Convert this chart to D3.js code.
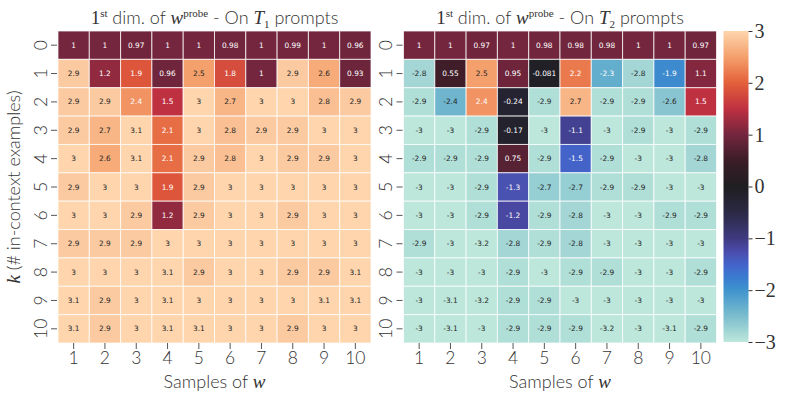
<!DOCTYPE html>
<html><head><meta charset="utf-8">
<script src="https://cdn.jsdelivr.net/npm/d3@7"></script>
<style>body{margin:0;background:#fff}</style>
</head><body><svg id="c" width="789" height="399"></svg>
<script>
const samples = [1,2,3,4,5,6,7,8,9,10];
const kValues = [0,1,2,3,4,5,6,7,8,9,10];
const valuesT1 = [
 [1,1,0.97,1,1,0.98,1,0.99,1,0.96],
 [2.9,1.2,1.9,0.96,2.5,1.8,1,2.9,2.6,0.93],
 [2.9,2.9,2.4,1.5,3,2.7,3,3,2.8,2.9],
 [2.9,2.7,3.1,2.1,3,2.8,2.9,2.9,3,3],
 [3,2.6,3.1,2.1,2.9,2.8,3,2.9,2.9,3],
 [2.9,3,3,1.9,2.9,3,3,3,3,3],
 [3,3,2.9,1.2,2.9,3,3,2.9,3,3],
 [2.9,2.9,2.9,3,3,3,3,3,3,3],
 [3,3,3,3.1,2.9,3,3,2.9,2.9,3.1],
 [3.1,2.9,3,3.1,3,3,3,3,3.1,3.1],
 [3.1,2.9,3,3.1,3.1,3,3,2.9,3,3]
];
const valuesT2 = [
 [1,1,0.97,1,0.98,0.98,0.98,1,1,0.97],
 [-2.8,0.55,2.5,0.95,-0.081,2.2,-2.3,-2.8,-1.9,1.1],
 [-2.9,-2.4,2.4,-0.24,-2.9,2.7,-2.9,-2.9,-2.6,1.5],
 [-3,-3,-2.9,-0.17,-3,-1.1,-3,-2.9,-3,-2.9],
 [-2.9,-2.9,-2.9,0.75,-2.9,-1.5,-2.9,-3,-3,-2.8],
 [-3,-3,-2.9,-1.3,-2.7,-2.7,-2.9,-2.9,-3,-3],
 [-3,-3,-2.9,-1.2,-2.9,-2.8,-3,-3,-2.9,-2.9],
 [-2.9,-3,-3.2,-2.8,-2.9,-2.8,-3,-3,-3,-3],
 [-3,-3,-3,-2.9,-3,-2.9,-2.9,-3,-3,-2.9],
 [-3,-3.1,-3.2,-2.9,-2.9,-3,-3,-3,-3,-3],
 [-3,-3.1,-3,-2.9,-2.9,-2.9,-3.2,-3,-3.1,-2.9]
];
const colorTicks = [3,2,1,0,-1,-2,-3];
const colorTickLabels = ["3","2","1","0","\u22121","\u22122","\u22123"];
const cmapStops = [-3,-2.5,-2,-1.75,-1.5,-1.25,-1,-0.5,0,0.5,1,1.5,2,2.5,3];
const cmapColors = ["#bde7db","#7bbdcd","#3f94cd","#3a7bd0","#4463c9","#4a4cab","#3f3a80","#2b2944","#1f1e21","#3a1d27","#74263e","#bf3041","#e4603a","#f4a06c","#fed5ad"];

const color = d3.scaleLinear().domain(cmapStops).range(cmapColors).interpolate(d3.interpolateRgb).clamp(true);
function lum(c){const r=d3.rgb(c);const f=v=>{v/=255;return v<=0.03928?v/12.92:Math.pow((v+0.055)/1.055,2.4);};return 0.2126*f(r.r)+0.7152*f(r.g)+0.0722*f(r.b);}

const svg = d3.select("#c");
svg.append("rect").attr("width",789).attr("height",399).attr("fill","#fff");
const SANS = "Lato, 'DejaVu Sans', sans-serif";
const SERIF = "'Liberation Serif', serif";
const FW = 300;
const TXT = "#333";
const Y0 = 31, Y1 = 343;
const y = d3.scaleBand().domain(kValues).range([Y0, Y1]);
function serif(sel){ return sel.attr("font-family",SERIF).style("font-weight","400"); }

function panel(x0, x1, data, sub, showYLabel){
  const x = d3.scaleBand().domain(samples).range([x0, x1]);
  const g = svg.append("g");
  const cells = [];
  data.forEach((row,i)=>row.forEach((v,j)=>cells.push({k:kValues[i], s:samples[j], v})));
  g.selectAll("rect.cell").data(cells).join("rect")
    .attr("x", d=>x(d.s)).attr("y", d=>y(d.k))
    .attr("width", x.bandwidth()).attr("height", y.bandwidth())
    .attr("fill", d=>color(d.v))
    .attr("stroke","#fff").attr("stroke-opacity",0.75).attr("stroke-width",1);
  g.selectAll("text.ann").data(cells).join("text")
    .attr("x", d=>x(d.s)+x.bandwidth()/2).attr("y", d=>y(d.k)+y.bandwidth()/2)
    .attr("text-anchor","middle").attr("dominant-baseline","central")
    .attr("font-family","'DejaVu Sans', sans-serif").attr("font-size",7.4)
    .attr("fill", d=> lum(color(d.v))>0.408 ? "#262626" : "#fff")
    .text(d=>String(d.v));
  // x axis
  const xa = d3.axisBottom(x).tickSize(6).tickPadding(4);
  const gx = svg.append("g").attr("transform",`translate(0,${Y1})`).call(xa);
  gx.select(".domain").remove();
  gx.selectAll("line").attr("stroke","#555");
  gx.selectAll("text").attr("font-family",SANS).attr("font-weight",FW).attr("font-size",17.5).attr("fill",TXT).attr("dy","0.85em").attr("y",6);
  svg.append("text").attr("x",(x0+x1)/2).attr("y",388).attr("text-anchor","middle")
    .attr("font-family",SANS).attr("font-weight",FW).attr("font-size",18).attr("fill",TXT)
    .call(t=>{t.append("tspan").text("Samples of ");serif(t.append("tspan")).attr("font-style","italic").attr("font-size",19).text("w");});
  // y axis
  const ya = d3.axisLeft(y).tickSize(6).tickPadding(4);
  const gy = svg.append("g").attr("transform",`translate(${x0-1},0)`).call(ya);
  gy.select(".domain").remove();
  gy.selectAll("line").attr("stroke","#555");
  gy.selectAll("text").attr("font-family",SANS).attr("font-weight",FW).attr("font-size",17.5).attr("fill",TXT)
    .attr("text-anchor","middle").attr("dy",null).attr("x",null).attr("dominant-baseline","central")
    .attr("transform","translate(-17,0) rotate(-90)");
  // title
  const t = svg.append("text").attr("x",(x0+x1)/2).attr("y",24).attr("text-anchor","middle")
    .attr("font-family",SANS).attr("font-weight",FW).attr("font-size",18).attr("fill",TXT);
  serif(t.append("tspan")).attr("font-size",19).text("1");
  serif(t.append("tspan")).attr("font-size",11).attr("dy",-7).text("st");
  t.append("tspan").attr("dy",7).text(" dim. of ");
  serif(t.append("tspan")).attr("font-style","italic").attr("font-size",19).text("w");
  serif(t.append("tspan")).attr("font-size",11).attr("dy",-7).text("probe");
  t.append("tspan").attr("dy",7).text(" - On ");
  serif(t.append("tspan")).attr("font-style","italic").attr("font-size",19).text("T");
  serif(t.append("tspan")).attr("font-size",11).attr("dy",4).text(sub);
  t.append("tspan").attr("dy",-4).text(" prompts");
  if(showYLabel){
    const yl = svg.append("text").attr("transform",`translate(20,${(Y0+Y1)/2}) rotate(-90)`)
      .attr("text-anchor","middle").attr("font-family",SANS).attr("font-weight",FW).attr("font-size",18).attr("fill",TXT);
    serif(yl.append("tspan")).attr("font-style","italic").attr("font-size",19).text("k");
    yl.append("tspan").text(" (# in-context examples)");
  }
}
panel(58, 371, valuesT1, "1", true);
panel(403.5, 716.5, valuesT2, "2", false);

// colorbar
const cbX = 723.5, cbW = 25;
const cy = d3.scaleLinear().domain([-3,3]).range([Y1-1, Y0]);
const defs = svg.append("defs");
const grad = defs.append("linearGradient").attr("id","cb").attr("x1",0).attr("y1",1).attr("x2",0).attr("y2",0);
cmapStops.forEach((s,i)=>grad.append("stop").attr("offset",(s+3)/6).attr("stop-color",cmapColors[i]));
svg.append("rect").attr("x",cbX).attr("y",Y0).attr("width",cbW).attr("height",Y1-1-Y0).attr("fill","url(#cb)");
const ca = d3.axisRight(cy).tickValues(colorTicks).tickFormat((d,i)=>colorTickLabels[i]).tickSize(4).tickPadding(2);
const gc = svg.append("g").attr("transform",`translate(${cbX+cbW},0)`).call(ca);
gc.select(".domain").remove();
gc.selectAll("line").attr("stroke","#333");
gc.selectAll("text").attr("font-family",SERIF).style("font-weight","400").attr("font-size",20).attr("fill",TXT);
</script></body></html>
